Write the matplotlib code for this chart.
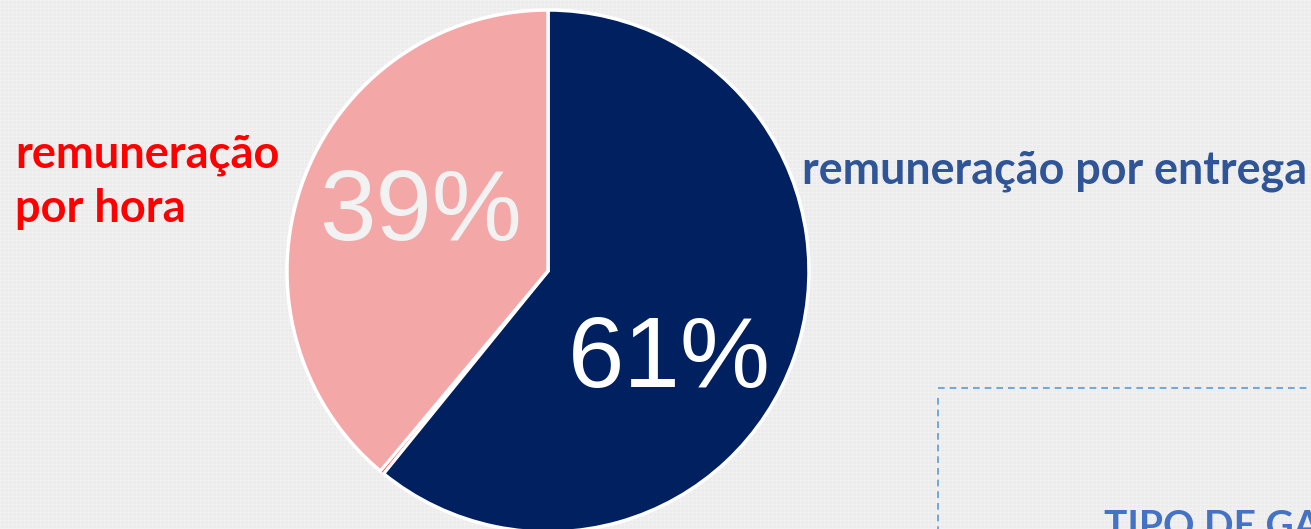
import numpy as np
import matplotlib.pyplot as plt
from matplotlib.lines import Line2D

# data
shares = [61, 0.25, 39]
slice_colors = ['#002060', '#FF0000', '#F4A7A7']
pct_labels = ['61%', '39%']
label_hour = 'remuneração\npor hora'
label_delivery = 'remuneração por entrega'
box_title = 'TIPO DE GA'

W, H = 1311, 529
fig = plt.figure(figsize=(W / 100, H / 100), dpi=100)
fig.patch.set_facecolor('#EBEBEB')

# woven background texture (deterministic)
bg = fig.add_axes([0, 0, 1, 1])
yy, xx = np.indices((H, W))
weave = 0.925 + 0.018 * ((xx % 4 == 0) | (yy % 4 == 0)) - 0.015 * ((xx % 8 == 2) & (yy % 8 == 2))
bg.imshow(weave, cmap='gray', vmin=0, vmax=1, aspect='auto', interpolation='nearest')
bg.set_axis_off()

# pie
cx, cy, r = 548, 271, 261
ax = fig.add_axes([(cx - r) / W, (H - cy - r) / H, 2 * r / W, 2 * r / H])
wedges, _ = ax.pie(shares, colors=slice_colors, startangle=90, counterclock=False,
                   wedgeprops=dict(edgecolor='white', linewidth=2.5))
wedges[1].set_linewidth(0)
wedges[1].set_zorder(0)
ax.set_xlim(-1, 1)
ax.set_ylim(-1, 1)
ax.set_aspect('equal')
ax.set_axis_off()

pct_font = ['Liberation Sans Narrow', 'Liberation Sans']
ax.text(0.465, -0.446, pct_labels[0], color='white', fontsize=73,
        family=pct_font, ha='center', va='baseline')
ax.text(-0.488, 0.119, pct_labels[1], color='#F2F2F2', fontsize=73,
        family=pct_font, ha='center', va='baseline')

# side labels
for i, line in enumerate(label_hour.split('\n')):
    fig.text(15 / W, 1 - (167 + 55 * i) / H, line, color='#FF0000', fontsize=32.5,
             fontweight='bold', family='Lato', ha='left', va='baseline')
fig.text(802 / W, 1 - 183 / H, label_delivery, color='#2F5597', fontsize=32.3,
         fontweight='bold', family='Lato', ha='left', va='baseline')

# dashed box in the lower right
fig.add_artist(Line2D([938 / W, 1], [1 - 388 / H] * 2, color='#5B9BD5',
                      lw=1.2, ls=(0, (4, 3)), transform=fig.transFigure))
fig.add_artist(Line2D([938 / W] * 2, [1 - 398 / H, 0], color='#5B9BD5',
                      lw=1.2, ls=(0, (4, 3)), transform=fig.transFigure))
fig.text(1104 / W, 1 - 509 / H, box_title, color='#4472C4', fontsize=28,
         fontweight='bold', family='Lato', ha='left', va='top')

fig.savefig('out.png', dpi=100, facecolor=fig.get_facecolor())
